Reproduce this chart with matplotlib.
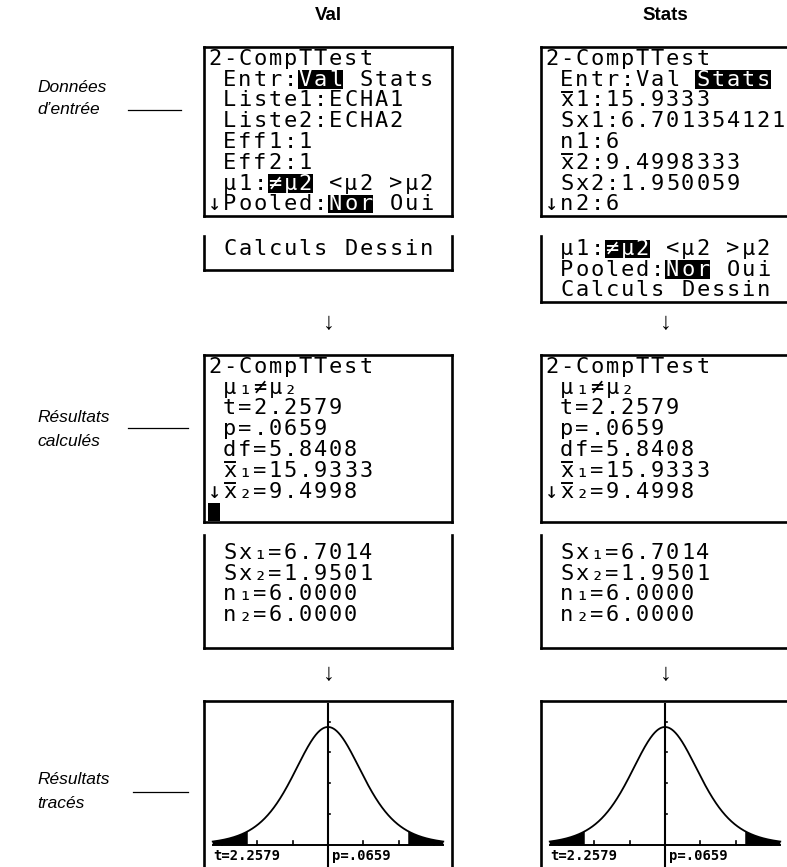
import math
import numpy as np
import matplotlib
matplotlib.use("Agg")
import matplotlib.pyplot as plt
from matplotlib.patches import Rectangle

# ---------------- data ----------------
col_headers = ["Val", "Stats"]
side_labels = [["Données", "d’entrée"], ["Résultats", "calculés"], ["Résultats", "tracés"]]

input_val = ["2-CompTTest", " Entr:Val Stats", " Liste1:ECHA1", " Liste2:ECHA2",
             " Eff1:1", " Eff2:1", " μ1:≠μ2 <μ2 >μ2", "↓Pooled:Nor Oui"]
input_val_hl = [(1, 6, 9), (6, 4, 7), (7, 8, 11)]
input_val_more = [" Calculs Dessin"]

input_stats = ["2-CompTTest", " Entr:Val Stats", " x\u03041:15.9333", " Sx1:6.701354121",
               " n1:6", " x\u03042:9.4998333", " Sx2:1.950059", "↓n2:6"]
input_stats_hl = [(1, 10, 15)]
input_stats_more = [" μ1:≠μ2 <μ2 >μ2", " Pooled:Nor Oui", " Calculs Dessin"]
input_stats_more_hl = [(0, 4, 7), (1, 8, 11)]

results = ["2-CompTTest", " μ₁≠μ₂", " t=2.2579", " p=.0659", " df=5.8408",
           " x\u0304₁=15.9333", "↓x\u0304₂=9.4998"]
results_more = [" Sx₁=6.7014", " Sx₂=1.9501", " n₁=6.0000", " n₂=6.0000"]

t_stat = 2.2579
p_label = "p=.0659"
t_label = "t=2.2579"
df_val = 5.8408
x_ticks = [-3, -2, -1, 1, 2, 3]
y_ticks = [0.1, 0.2, 0.3, 0.4]

# ---------------- layout ----------------
W, H = 787, 867
fig = plt.figure(figsize=(W / 100, H / 100), dpi=100)
ax = fig.add_axes([0, 0, 1, 1])
ax.set_xlim(0, W)
ax.set_ylim(H, 0)
ax.axis("off")

BX = [204, 541]
BW = 248
CW = (BW - 6) / 16.0
RH = 20.8
LW = 1.9
MONO = "DejaVu Sans Mono"
FS = 15.8


def box(x, top, bottom, open_top=False, open_bottom=False):
    kw = dict(color="k", lw=LW, solid_capstyle="projecting")
    ax.plot([x, x], [top, bottom], **kw)
    ax.plot([x + BW, x + BW], [top, bottom], **kw)
    if not open_top:
        ax.plot([x, x + BW], [top, top], **kw)
    if not open_bottom:
        ax.plot([x, x + BW], [bottom, bottom], **kw)


def rows_text(x, top, rows, hl=()):
    x0 = x + 3
    for i, row in enumerate(rows):
        yc = top + (i + 0.5) * RH
        for r, a, b in hl:
            if r == i:
                ax.add_patch(Rectangle((x0 + a * CW, yc - RH / 2 + 1.5), (b - a) * CW, RH - 2.5,
                                       color="k", lw=0, zorder=2))
        col = 0
        for ch in row:
            if ch == "\u0304":
                cx = x0 + (col - 0.5) * CW
                ax.plot([cx - 0.32 * CW, cx + 0.32 * CW], [yc - 0.38 * RH] * 2, color="k", lw=1.4)
                continue
            inhl = any(r == i and a <= col < b for r, a, b in hl)
            ax.text(x0 + (col + 0.5) * CW, yc + 0.5, ch, ha="center", va="center",
                    family=MONO, fontsize=FS, color="white" if inhl else "black", zorder=3)
            col += 1


# headers
for bx, hdr in zip(BX, col_headers):
    ax.text(bx + BW / 2, 16, hdr, ha="center", va="center", fontsize=13.5,
            fontweight="bold", family=["Liberation Sans", "DejaVu Sans"])

# side labels
lab_y = [(88, 109, 110, 128, 181), (418, 441, 428, 128, 188), (779, 803, 792, 133, 188)]
for (l1, l2), (y1, y2, ly, lx0, lx1) in zip(side_labels, lab_y):
    ax.text(37, y1, l1, ha="left", va="center", fontsize=12.5, style="italic",
            family=["Liberation Sans", "DejaVu Sans"])
    ax.text(37, y2, l2, ha="left", va="center", fontsize=12.5, style="italic",
            family=["Liberation Sans", "DejaVu Sans"])
    ax.plot([lx0, lx1], [ly, ly], color="k", lw=0.9)

# ---- input screens ----
box(BX[0], 47, 216)
rows_text(BX[0], 48, input_val, input_val_hl)
box(BX[1], 47, 216)
rows_text(BX[1], 48, input_stats, input_stats_hl)

box(BX[0], 236, 270, open_top=True)
rows_text(BX[0], 238, input_val_more)
box(BX[1], 236, 302, open_top=True)
rows_text(BX[1], 238, input_stats_more, input_stats_more_hl)

# arrows
for bx in BX:
    for ay in (323, 674):
        ax.text(bx + BW / 2 + 1, ay, "↓", ha="center", va="center", fontsize=17,
                family=["Liberation Sans", "DejaVu Sans"])

# ---- results screens ----
for k, bx in enumerate(BX):
    box(bx, 355, 522)
    rows_text(bx, 356, results)
    box(bx, 535, 648, open_top=True)
    rows_text(bx, 542, results_more)
# cursor block on the left result screen
ax.add_patch(Rectangle((BX[0] + 4, 356 + 7 * RH + 1.5), CW * 0.8, RH - 3, color="k", lw=0))

# ---- graph screens ----
GT = 701
AX0 = 845  # pixel row of the t-axis
c = math.gamma((df_val + 1) / 2) / (math.sqrt(df_val * math.pi) * math.gamma(df_val / 2))
ytop = 0.46
ybot = -ytop * (H - AX0) / (AX0 - GT - 2)
for bx in BX:
    box(bx, GT, H + 5, open_bottom=True)
    g = fig.add_axes([(bx + 2) / W, 0, (BW - 4) / W, (H - GT - 2) / H])
    g.axis("off")
    g.set_xlim(-3.44, 3.44)
    g.set_ylim(ybot, ytop)
    xs = np.linspace(-3.25, 3.25, 600)
    ys = c * (1 + xs ** 2 / df_val) ** (-(df_val + 1) / 2)
    g.fill_between(xs, 0, ys, where=np.abs(xs) >= t_stat, color="k", lw=0)
    g.plot(xs, ys, color="k", lw=1.3)
    g.plot([-3.25, 3.25], [0, 0], color="k", lw=1.4)
    g.axvline(0, color="k", lw=1.5)
    for xt in x_ticks:
        g.plot([xt, xt], [0, 0.012], color="k", lw=1.2)
    for yt in y_ticks:
        g.plot([0, 0.05], [yt, yt], color="k", lw=1.2)
    ax.text(bx + 9, 856, t_label, ha="left", va="center", family=MONO,
            fontsize=10, fontweight="bold")
    ax.text(bx + BW / 2 + 4, 856, p_label, ha="left", va="center", family=MONO,
            fontsize=10, fontweight="bold")

fig.savefig("out.png", dpi=100)
